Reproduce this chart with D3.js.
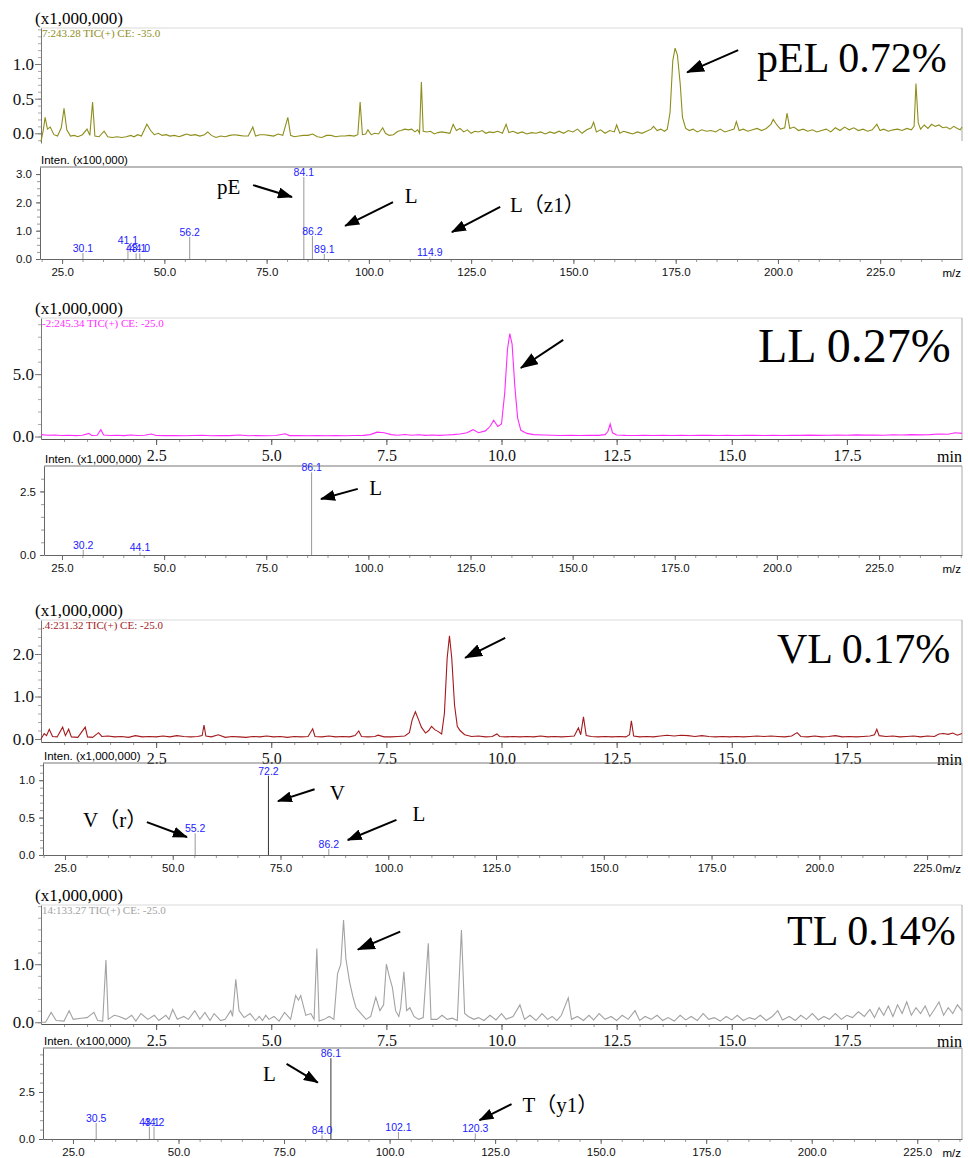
<!DOCTYPE html>
<html>
<head>
<meta charset="utf-8">
<script src="https://cdn.jsdelivr.net/npm/d3@7/dist/d3.min.js"></script>
<style>
  body { margin: 0; background: #fff; }
  svg { display: block; }
</style>
</head>
<body>
<div id="chart"></div>
<script>
// --------------------------------------
//  Data
// --------------------------------------

// retention time ticks (min) and m/z ticks
const timeTicks = [2.5, 5.0, 7.5, 10.0, 12.5, 15.0, 17.5];
const mzTicks = [25, 50, 75, 100, 125, 150, 175, 200, 225];

// chromatograms: [time (min), intensity (x1,000,000)]
const pelTrace = [[0.00,-0.12],[0.05,0.05],[0.09,0.23],[0.14,0.06],[0.20,0.09],[0.28,-0.02],[0.36,-0.04],[0.44,0.08],[0.50,0.36],[0.56,0.05],[0.64,-0.04],[0.72,-0.03],[0.80,-0.05],[0.90,-0.02],[1.00,0.06],[1.06,-0.03],[1.12,0.45],[1.17,-0.04],[1.26,-0.05],[1.37,0.03],[1.45,-0.05],[1.55,-0.06],[1.65,-0.05],[1.75,-0.06],[1.85,-0.05],[1.95,-0.03],[2.02,-0.05],[2.10,-0.02],[2.18,-0.04],[2.30,0.13],[2.38,0.04],[2.46,-0.02],[2.55,0.0],[2.63,-0.03],[2.72,-0.02],[2.80,-0.04],[2.90,-0.03],[3.00,-0.05],[3.08,-0.03],[3.16,-0.01],[3.25,-0.03],[3.35,-0.02],[3.45,-0.04],[3.55,-0.02],[3.62,0.02],[3.70,-0.03],[3.80,-0.06],[3.90,-0.04],[4.00,-0.05],[4.10,-0.03],[4.20,-0.02],[4.30,-0.03],[4.40,-0.04],[4.50,-0.04],[4.60,0.09],[4.66,-0.04],[4.75,-0.02],[4.85,-0.02],[4.95,-0.03],[5.05,-0.04],[5.15,-0.01],[5.25,-0.03],[5.36,0.23],[5.42,-0.03],[5.50,-0.05],[5.60,-0.04],[5.70,-0.03],[5.80,-0.03],[5.90,-0.01],[6.00,-0.05],[6.10,-0.06],[6.20,-0.03],[6.30,-0.03],[6.40,-0.05],[6.50,-0.04],[6.60,-0.04],[6.70,-0.03],[6.80,-0.04],[6.88,-0.02],[6.93,0.45],[6.98,-0.02],[7.05,-0.01],[7.10,0.05],[7.17,-0.02],[7.25,0.0],[7.33,-0.01],[7.42,0.08],[7.48,0.0],[7.56,-0.03],[7.65,-0.02],[7.75,0.03],[7.82,0.04],[7.90,0.06],[7.98,0.05],[8.05,0.06],[8.12,0.02],[8.18,0.05],[8.22,0.0],[8.26,0.74],[8.30,0.03],[8.38,0.02],[8.46,0.03],[8.54,-0.01],[8.62,0.01],[8.70,0.02],[8.80,0.01],[8.88,0.0],[8.95,0.13],[9.02,0.04],[9.10,0.07],[9.18,0.02],[9.26,0.05],[9.34,0.0],[9.42,0.03],[9.50,0.02],[9.58,0.04],[9.66,0.0],[9.74,0.02],[9.82,0.01],[9.92,0.03],[10.02,0.0],[10.10,0.13],[10.16,0.01],[10.25,0.03],[10.35,0.0],[10.45,0.02],[10.55,-0.01],[10.65,0.01],[10.75,0.0],[10.85,0.02],[10.95,-0.01],[11.05,0.02],[11.15,0.0],[11.25,0.03],[11.35,0.0],[11.45,0.04],[11.55,0.02],[11.65,0.06],[11.75,0.0],[11.85,0.05],[11.95,0.08],[12.00,0.16],[12.06,0.02],[12.15,0.05],[12.25,0.0],[12.35,0.04],[12.45,0.02],[12.50,0.12],[12.57,0.0],[12.65,0.03],[12.75,0.01],[12.85,-0.01],[12.95,0.02],[13.05,0.0],[13.15,0.03],[13.25,0.06],[13.30,0.10],[13.38,0.04],[13.46,0.06],[13.54,0.03],[13.60,0.06],[13.66,0.30],[13.72,1.05],[13.77,1.23],[13.82,1.13],[13.88,0.72],[13.93,0.23],[14.00,0.07],[14.08,0.04],[14.16,0.06],[14.25,0.02],[14.35,0.05],[14.45,0.03],[14.55,0.04],[14.65,0.02],[14.75,0.06],[14.85,0.02],[14.95,0.04],[15.05,0.06],[15.10,0.17],[15.16,0.04],[15.25,0.06],[15.35,0.03],[15.45,0.05],[15.55,0.07],[15.65,0.04],[15.75,0.07],[15.85,0.13],[15.90,0.20],[15.98,0.12],[16.06,0.06],[16.15,0.08],[16.20,0.29],[16.26,0.07],[16.35,0.09],[16.45,0.04],[16.55,0.06],[16.65,0.03],[16.75,0.05],[16.85,0.02],[16.95,0.04],[17.05,0.06],[17.15,0.02],[17.25,0.08],[17.35,0.04],[17.45,0.09],[17.55,0.05],[17.65,0.08],[17.75,0.04],[17.85,0.06],[17.95,0.03],[18.05,0.05],[18.15,0.13],[18.22,0.04],[18.30,0.06],[18.40,0.03],[18.50,0.05],[18.60,0.06],[18.70,0.04],[18.80,0.07],[18.90,0.05],[18.96,0.10],[19.00,0.72],[19.05,0.15],[19.10,0.06],[19.18,0.12],[19.26,0.07],[19.34,0.13],[19.42,0.10],[19.50,0.12],[19.58,0.08],[19.66,0.09],[19.74,0.06],[19.82,0.10],[19.90,0.07],[19.96,0.05],[20.00,0.09]];

const llTrace = [[0.0,0.15],[0.15,0.10],[0.3,0.12],[0.45,0.08],[0.6,0.10],[0.75,0.07],[0.9,0.10],[1.04,0.25],[1.1,0.08],[1.22,0.10],[1.3,0.55],[1.36,0.12],[1.5,0.08],[1.65,0.10],[1.8,0.07],[1.95,0.12],[2.1,0.08],[2.25,0.10],[2.4,0.20],[2.5,0.08],[2.7,0.07],[2.9,0.08],[3.1,0.06],[3.3,0.08],[3.5,0.10],[3.7,0.06],[3.9,0.08],[4.1,0.07],[4.3,0.12],[4.5,0.06],[4.7,0.08],[4.9,0.06],[5.1,0.08],[5.3,0.22],[5.4,0.07],[5.6,0.08],[5.8,0.06],[6.0,0.08],[6.2,0.06],[6.4,0.07],[6.6,0.06],[6.8,0.08],[7.0,0.09],[7.15,0.15],[7.3,0.35],[7.45,0.30],[7.6,0.15],[7.75,0.10],[7.9,0.16],[8.05,0.10],[8.2,0.14],[8.35,0.09],[8.5,0.12],[8.65,0.09],[8.8,0.12],[8.95,0.15],[9.1,0.20],[9.25,0.30],[9.38,0.55],[9.5,0.30],[9.65,0.45],[9.75,0.80],[9.83,1.30],[9.92,0.80],[10.0,1.00],[10.07,3.50],[10.13,7.00],[10.18,8.25],[10.23,7.40],[10.29,4.00],[10.35,1.50],[10.42,0.50],[10.55,0.25],[10.7,0.15],[10.9,0.12],[11.1,0.10],[11.3,0.08],[11.5,0.10],[11.7,0.08],[11.9,0.10],[12.1,0.09],[12.25,0.15],[12.31,0.40],[12.36,1.00],[12.41,0.30],[12.5,0.12],[12.7,0.09],[12.9,0.08],[13.1,0.10],[13.3,0.08],[13.5,0.09],[13.7,0.08],[13.9,0.10],[14.1,0.08],[14.3,0.09],[14.5,0.10],[14.7,0.08],[14.9,0.09],[15.1,0.08],[15.3,0.10],[15.5,0.09],[15.7,0.08],[15.9,0.10],[16.1,0.08],[16.3,0.10],[16.5,0.09],[16.7,0.11],[16.9,0.09],[17.1,0.10],[17.3,0.12],[17.5,0.10],[17.7,0.13],[17.9,0.11],[18.1,0.12],[18.3,0.10],[18.5,0.14],[18.7,0.12],[18.9,0.15],[19.1,0.13],[19.3,0.15],[19.5,0.20],[19.7,0.18],[19.85,0.30],[20.0,0.25]];

const vlTrace = [[0.00,0.0],[0.07,0.13],[0.12,0.08],[0.18,0.23],[0.25,0.06],[0.35,0.05],[0.47,0.28],[0.53,0.08],[0.60,0.23],[0.66,0.05],[0.80,0.04],[0.96,0.28],[1.01,0.05],[1.12,0.04],[1.25,0.15],[1.32,0.06],[1.45,0.07],[1.6,0.05],[1.75,0.06],[1.9,0.04],[2.05,0.08],[2.2,0.05],[2.35,0.06],[2.5,0.05],[2.65,0.07],[2.8,0.05],[2.95,0.08],[3.1,0.06],[3.25,0.05],[3.4,0.06],[3.5,0.08],[3.54,0.33],[3.58,0.07],[3.7,0.05],[3.85,0.10],[4.0,0.04],[4.15,0.06],[4.3,0.05],[4.45,0.04],[4.6,0.06],[4.75,0.05],[4.9,0.07],[5.05,0.05],[5.2,0.06],[5.35,0.04],[5.5,0.06],[5.65,0.05],[5.8,0.06],[5.9,0.24],[5.95,0.06],[6.1,0.05],[6.25,0.07],[6.4,0.05],[6.55,0.06],[6.7,0.05],[6.82,0.08],[6.9,0.19],[6.96,0.06],[7.1,0.05],[7.25,0.06],[7.32,0.09],[7.45,0.05],[7.6,0.05],[7.75,0.06],[7.9,0.07],[8.0,0.15],[8.06,0.45],[8.13,0.64],[8.2,0.45],[8.26,0.28],[8.35,0.14],[8.42,0.20],[8.48,0.30],[8.55,0.22],[8.62,0.18],[8.70,0.12],[8.76,0.60],[8.82,1.90],[8.87,2.43],[8.92,1.90],[8.98,0.80],[9.04,0.30],[9.1,0.20],[9.2,0.10],[9.35,0.06],[9.5,0.07],[9.65,0.05],[9.8,0.06],[9.9,0.12],[9.96,0.06],[10.1,0.05],[10.25,0.06],[10.4,0.05],[10.55,0.06],[10.7,0.05],[10.85,0.07],[11.0,0.05],[11.15,0.06],[11.3,0.05],[11.45,0.06],[11.58,0.07],[11.67,0.26],[11.72,0.10],[11.78,0.52],[11.84,0.08],[11.95,0.06],[12.1,0.05],[12.25,0.06],[12.4,0.05],[12.55,0.06],[12.7,0.05],[12.78,0.10],[12.82,0.43],[12.87,0.07],[13.0,0.05],[13.15,0.06],[13.3,0.05],[13.45,0.07],[13.6,0.09],[13.75,0.07],[13.9,0.09],[14.05,0.08],[14.2,0.06],[14.35,0.08],[14.5,0.06],[14.65,0.05],[14.8,0.06],[14.95,0.05],[15.1,0.06],[15.25,0.05],[15.4,0.06],[15.55,0.07],[15.7,0.06],[15.85,0.07],[16.0,0.06],[16.15,0.05],[16.3,0.07],[16.42,0.15],[16.5,0.06],[16.65,0.05],[16.8,0.07],[16.95,0.05],[17.1,0.06],[17.25,0.08],[17.4,0.05],[17.55,0.06],[17.7,0.05],[17.85,0.06],[18.0,0.07],[18.1,0.10],[18.15,0.23],[18.2,0.08],[18.35,0.06],[18.5,0.07],[18.65,0.05],[18.8,0.06],[18.95,0.07],[19.1,0.05],[19.25,0.07],[19.4,0.06],[19.5,0.12],[19.6,0.13],[19.7,0.11],[19.8,0.14],[19.9,0.09],[20.0,0.13]];

const tlTrace = [[0.00,0.0],[0.10,0.0],[0.22,0.17],[0.33,0.03],[0.50,0.02],[0.61,0.20],[0.70,0.05],[0.87,0.07],[1.00,0.08],[1.15,0.17],[1.23,0.03],[1.34,0.02],[1.41,1.07],[1.46,0.05],[1.59,0.12],[1.70,0.10],[1.84,0.05],[1.97,0.12],[2.06,0.02],[2.17,0.15],[2.32,0.05],[2.46,0.12],[2.56,0.03],[2.71,0.12],[2.78,0.05],[2.86,0.22],[2.96,0.05],[3.10,0.10],[3.20,0.05],[3.34,0.20],[3.45,0.05],[3.56,0.17],[3.67,0.03],[3.76,0.15],[3.90,0.03],[4.00,0.05],[4.12,0.20],[4.16,0.10],[4.23,0.74],[4.30,0.20],[4.41,0.08],[4.54,0.15],[4.66,0.03],[4.74,0.10],[4.81,0.03],[4.88,0.12],[4.95,0.05],[5.06,0.10],[5.17,0.02],[5.29,0.17],[5.42,0.05],[5.53,0.46],[5.59,0.38],[5.64,0.46],[5.75,0.12],[5.86,0.15],[5.93,0.05],[5.99,1.27],[6.04,0.02],[6.15,0.05],[6.26,0.10],[6.36,0.05],[6.44,0.84],[6.51,1.00],[6.57,1.76],[6.62,1.10],[6.70,0.70],[6.77,0.45],[6.84,0.25],[6.95,0.15],[7.06,0.05],[7.16,0.10],[7.27,0.43],[7.36,0.20],[7.44,0.30],[7.50,1.00],[7.56,0.80],[7.63,0.60],[7.70,0.20],[7.77,0.10],[7.81,0.25],[7.88,0.87],[7.94,0.20],[8.01,0.25],[8.10,0.10],[8.20,0.05],[8.30,0.08],[8.41,1.36],[8.47,0.05],[8.60,0.05],[8.71,0.12],[8.82,0.05],[8.93,0.07],[9.04,0.03],[9.13,1.59],[9.20,0.15],[9.28,0.10],[9.40,0.05],[9.50,0.08],[9.62,0.03],[9.75,0.12],[9.88,0.04],[10.0,0.15],[10.1,0.05],[10.25,0.10],[10.4,0.30],[10.5,0.05],[10.62,0.12],[10.75,0.03],[10.88,0.15],[11.0,0.05],[11.1,0.10],[11.2,0.03],[11.3,0.12],[11.45,0.42],[11.52,0.05],[11.65,0.10],[11.78,0.03],[11.9,0.12],[12.0,0.04],[12.12,0.15],[12.25,0.05],[12.38,0.10],[12.5,0.03],[12.62,0.12],[12.75,0.05],[12.9,0.20],[13.0,0.03],[13.12,0.10],[13.25,0.05],[13.38,0.12],[13.5,0.03],[13.62,0.08],[13.75,0.02],[13.88,0.12],[14.0,0.04],[14.12,0.10],[14.25,0.03],[14.38,0.15],[14.5,0.05],[14.62,0.08],[14.75,0.02],[14.88,0.10],[15.0,0.04],[15.12,0.12],[15.25,0.03],[15.38,0.08],[15.5,0.05],[15.62,0.12],[15.75,0.03],[15.88,0.10],[16.0,0.20],[16.1,0.04],[16.25,0.10],[16.38,0.03],[16.5,0.12],[16.62,0.05],[16.75,0.15],[16.88,0.04],[17.0,0.10],[17.12,0.05],[17.25,0.15],[17.38,0.05],[17.5,0.12],[17.62,0.08],[17.75,0.18],[17.88,0.10],[18.0,0.22],[18.1,0.08],[18.2,0.25],[18.3,0.12],[18.4,0.28],[18.5,0.10],[18.6,0.30],[18.7,0.15],[18.8,0.35],[18.9,0.12],[19.0,0.25],[19.1,0.15],[19.2,0.28],[19.3,0.10],[19.4,0.22],[19.5,0.35],[19.6,0.12],[19.7,0.25],[19.8,0.15],[19.9,0.30],[20.0,0.20]];

// product ion spectra: m/z and intensity
const pelMz  = [30.1, 41.1, 43.1, 44.0, 56.2, 84.1, 86.2, 89.1, 114.9];
const pelInt = [0.21, 0.48, 0.20, 0.20, 0.78, 2.90, 0.81, 0.18, 0.06];
const llMz   = [30.2, 44.1, 86.1];
const llInt  = [0.20, 0.10, 3.25];
const vlMz   = [55.2, 72.2, 86.2];
const vlInt  = [0.29, 1.06, 0.08];
const tlMz   = [30.5, 43.1, 44.2, 84.0, 86.1, 102.1, 120.3];
const tlInt  = [0.85, 0.65, 0.65, 0.20, 4.30, 0.37, 0.30];

// --------------------------------------
//  Canvas
// --------------------------------------

const width = 968, height = 1158;
const SERIF = "'Liberation Serif','Times New Roman',serif";
const SANS = "'Liberation Sans',Arial,sans-serif";
const NARROW = "'Liberation Sans Narrow','Arial Narrow','Liberation Sans',Arial,sans-serif";
const left = 41, right = 962;

const svg = d3.select("#chart")
  .append("svg")
    .attr("width", width)
    .attr("height", height)
    .attr("viewBox", `0 0 ${width} ${height}`);

const defs = svg.append("defs");
[["headBig", 18, 13], ["headSmall", 15, 11]].forEach(([id, w, h]) => {
  defs.append("marker")
      .attr("id", id)
      .attr("viewBox", `0 0 ${w} ${h}`)
      .attr("refX", w - 1)
      .attr("refY", h / 2)
      .attr("markerWidth", w)
      .attr("markerHeight", h)
      .attr("markerUnits", "userSpaceOnUse")
      .attr("orient", "auto")
    .append("path")
      .attr("d", `M0,0L${w},${h / 2}L0,${h}Z`)
      .attr("fill", "#000");
});

// --------------------------------------
//  Panel layout
// --------------------------------------

const chromPanels = [
  {data: pelTrace, color: "#8e8e1c", header: "7:243.28 TIC(+) CE: -35.0", title: "pEL 0.72%", titleSize: 42,
   titleAt: [15.55, 0.89], arrow: [[15.14, 1.20], [14.03, 0.88]],
   top: 28, bottom: 143, yDomain: [-0.14, 1.52], yTicks: [0, 0.5, 1.0], minor: 0.1, xAxis: false},
  {data: llTrace, color: "#ff2bff", header: "-2:245.34 TIC(+) CE: -25.0", title: "LL 0.27%", titleSize: 48,
   titleAt: [15.57, 5.97], arrow: [[11.34, 7.74], [10.42, 5.49]],
   top: 318, bottom: 439, yDomain: [-0.2, 9.5], yTicks: [0, 5], minor: 1, xAxis: true},
  {data: vlTrace, color: "#a3191c", header: ".4:231.32 TIC(+) CE: -25.0", title: "VL 0.17%", titleSize: 42,
   titleAt: [15.98, 1.79], arrow: [[10.08, 2.38], [9.21, 1.91]],
   top: 620, bottom: 742, yDomain: [-0.07, 2.8], yTicks: [0, 1, 2], minor: 0.2, xAxis: true},
  {data: tlTrace, color: "#a2a2a2", header: "14:133.27 TIC(+) CE: -25.0", title: "TL 0.14%", titleSize: 42,
   titleAt: [16.2, 1.33], arrow: [[7.80, 1.56], [6.88, 1.25]],
   top: 905, bottom: 1024, yDomain: [-0.03, 2.02], yTicks: [0, 1], minor: 0.2, xAxis: true}
];

const msPanels = [
  {mz: pelMz, inten: pelInt, unit: "Inten. (x100,000)", left: 40, top: 167, zero: 259,
   yDomain: [0, 3.25], yTicks: [0, 1, 2, 3], minor: 0.25, mzDomain: [19.6, 245], dark: [],
   notes: [{text: "pE", at: [62.9, 2.30], from: [71.7, 2.61], to: [81.2, 2.19]},
           {text: "L", at: [108.8, 1.98], from: [105.9, 2.01], to: [94.2, 1.17]},
           {text: "L（z1）", at: [134.5, 1.66], from: [132.1, 1.84], to: [120.3, 0.95]}]},
  {mz: llMz, inten: llInt, unit: "Inten. (x1,000,000)", left: 44, top: 466, zero: 555,
   yDomain: [0, 3.5], yTicks: [0, 2.5], minor: 0.5, mzDomain: [20.6, 245.3], dark: [],
   notes: [{text: "L", at: [100.2, 2.36], from: [97.4, 2.60], to: [88.4, 2.20]}]},
  {mz: vlMz, inten: vlInt, unit: "Inten. (x1,000,000)", left: 43, top: 763, zero: 855,
   yDomain: [0, 1.23], yTicks: [0, 0.5, 1.0], minor: 0.1, mzDomain: [19.9, 233.1], dark: [72.2],
   notes: [{text: "V", at: [86.4, 0.73], from: [82.9, 0.88], to: [74.4, 0.72]},
           {text: "V（r）", at: [29.2, 0.37], from: [44.0, 0.44], to: [53.3, 0.24]},
           {text: "L", at: [105.6, 0.45], from: [101.9, 0.47], to: [90.6, 0.20]}]},
  {mz: tlMz, inten: tlInt, unit: "Inten. (x100,000)", left: 43, top: 1048, zero: 1139,
   yDomain: [0, 4.84], yTicks: [0, 2.5], minor: 0.5, mzDomain: [17.9, 235.6], dark: [86.1],
   notes: [{text: "L", at: [70.0, 3.10], from: [75.6, 4.0], to: [83.0, 3.0]},
           {text: "T（y1）", at: [131.5, 1.44], from: [128.9, 1.86], to: [121.3, 1.0]}]}
];

// --------------------------------------
//  Chromatograms
// --------------------------------------

function styleAxis(sel, color, font, size) {
  sel.select(".domain").attr("stroke", color);
  sel.selectAll(".tick line").attr("stroke", color);
  sel.selectAll(".tick text")
    .attr("fill", "#111")
    .style("font-family", font)
    .style("font-size", size + "px");
}

chromPanels.forEach(p => {

  const x = d3.scaleLinear().domain([0, 20]).range([left, right]);
  const y = d3.scaleLinear().domain(p.yDomain).range([p.bottom, p.top]);
  const g = svg.append("g");

  // frame
  g.append("line")
      .attr("x1", left).attr("x2", right)
      .attr("y1", p.top).attr("y2", p.top)
      .attr("stroke", "#d9d9d9");
  g.append("line")
      .attr("x1", right).attr("x2", right)
      .attr("y1", p.top).attr("y2", p.bottom + (p.xAxis ? 0 : -2))
      .attr("stroke", "#a8a8a8");

  // y axis
  const minorY = d3.range(Math.ceil(p.yDomain[0] / p.minor) * p.minor, p.yDomain[1], p.minor);
  g.append("g")
      .attr("transform", `translate(${left},0)`)
      .call(d3.axisLeft(y).tickValues(minorY).tickSize(3).tickFormat(""))
      .call(a => a.select(".domain").remove())
      .selectAll("line").attr("stroke", "#aaa");
  g.append("g")
      .attr("transform", `translate(${left},0)`)
      .call(d3.axisLeft(y).tickValues(p.yTicks).tickSize(6).tickSizeOuter(0).tickPadding(1).tickFormat(d3.format(".1f")))
      .call(a => styleAxis(a, "#777", SERIF, 17));

  // x axis
  if (p.xAxis) {
    g.append("g")
        .attr("transform", `translate(0,${p.bottom})`)
        .call(d3.axisBottom(x).tickValues(d3.range(0.5, 20, 0.5)).tickSize(3).tickFormat(""))
        .call(a => a.select(".domain").remove())
        .selectAll("line").attr("stroke", "#999");
    g.append("g")
        .attr("transform", `translate(0,${p.bottom})`)
        .call(d3.axisBottom(x).tickValues(timeTicks).tickSize(6).tickSizeOuter(0).tickPadding(5).tickFormat(d3.format(".1f")))
        .call(a => styleAxis(a, "#555", SERIF, 16));
    g.append("text")
        .attr("x", right)
        .attr("y", p.bottom + 23)
        .attr("text-anchor", "end")
        .style("font-family", SERIF)
        .style("font-size", "16px")
        .text("min");
  }

  // trace
  g.append("path")
      .datum(p.data)
      .attr("d", d3.line().x(d => x(d[0])).y(d => y(d[1])))
      .attr("fill", "none")
      .attr("stroke", p.color)
      .attr("stroke-width", 1.1);

  // texts
  g.append("text")
      .attr("x", left - 6)
      .attr("y", p.top - 4)
      .style("font-family", SERIF)
      .style("font-size", "17px")
      .text("(x1,000,000)");
  g.append("text")
      .attr("x", left + 1)
      .attr("y", p.top + 9)
      .attr("fill", p.color)
      .style("font-family", SERIF)
      .style("font-size", "11px")
      .text(p.header);
  g.append("text")
      .attr("x", x(p.titleAt[0]))
      .attr("y", y(p.titleAt[1]))
      .style("font-family", SERIF)
      .style("font-size", p.titleSize + "px")
      .text(p.title);

  g.append("line")
      .attr("x1", x(p.arrow[0][0])).attr("y1", y(p.arrow[0][1]))
      .attr("x2", x(p.arrow[1][0])).attr("y2", y(p.arrow[1][1]))
      .attr("stroke", "#000")
      .attr("stroke-width", 2)
      .attr("marker-end", "url(#headBig)");
});

// --------------------------------------
//  Product ion spectra
// --------------------------------------

msPanels.forEach(p => {

  const x = d3.scaleLinear().domain(p.mzDomain).range([p.left, right]);
  const y = d3.scaleLinear().domain(p.yDomain).range([p.zero, p.top]);
  const g = svg.append("g");

  g.append("line")
      .attr("x1", p.left).attr("x2", right)
      .attr("y1", p.top).attr("y2", p.top)
      .attr("stroke", "#777");
  g.append("line")
      .attr("x1", right).attr("x2", right)
      .attr("y1", p.top).attr("y2", p.zero)
      .attr("stroke", "#aaa");

  // y axis
  const minorY = d3.range(0, p.yDomain[1], p.minor);
  g.append("g")
      .attr("transform", `translate(${p.left},0)`)
      .call(d3.axisLeft(y).tickValues(minorY).tickSize(3).tickFormat(""))
      .call(a => a.select(".domain").remove())
      .selectAll("line").attr("stroke", "#999");
  g.append("g")
      .attr("transform", `translate(${p.left},0)`)
      .call(d3.axisLeft(y).tickValues(p.yTicks).tickSize(4).tickSizeOuter(0).tickPadding(4).tickFormat(d3.format(".1f")))
      .call(a => styleAxis(a, "#666", SANS, 11.5));

  // x axis
  const minorX = d3.range(Math.ceil(p.mzDomain[0] / 5) * 5, p.mzDomain[1], 5);
  g.append("g")
      .attr("transform", `translate(0,${p.zero})`)
      .call(d3.axisBottom(x).tickValues(minorX).tickSize(3).tickFormat(""))
      .call(a => a.select(".domain").remove())
      .selectAll("line").attr("stroke", "#999");
  g.append("g")
      .attr("transform", `translate(0,${p.zero})`)
      .call(d3.axisBottom(x).tickValues(mzTicks).tickSize(5).tickSizeOuter(0).tickPadding(4).tickFormat(d3.format(".1f")))
      .call(a => styleAxis(a, "#666", NARROW, 11.5));
  g.append("text")
      .attr("x", right - 1)
      .attr("y", p.zero + 18)
      .attr("text-anchor", "end")
      .style("font-family", NARROW)
      .style("font-size", "11.5px")
      .text("m/z");

  g.append("text")
      .attr("x", p.left + 1)
      .attr("y", p.top - 3)
      .style("font-family", NARROW)
      .style("font-size", "11.5px")
      .text(p.unit);

  // sticks and labels
  const peaks = p.mz.map((m, i) => ({mz: m, v: p.inten[i]}));
  g.selectAll(".stick")
    .data(peaks)
    .join("line")
      .attr("x1", d => x(d.mz)).attr("x2", d => x(d.mz))
      .attr("y1", y(0)).attr("y2", d => y(d.v))
      .attr("stroke", d => p.dark.includes(d.mz) ? "#333" : "#999")
      .attr("stroke-width", 1);
  g.selectAll(".lbl")
    .data(peaks)
    .join("text")
      .attr("x", d => x(d.mz))
      .attr("y", d => y(d.v) - 1)
      .attr("text-anchor", "middle")
      .attr("fill", "#1c1cff")
      .style("font-family", SANS)
      .style("font-size", "10.5px")
      .text(d => d.mz.toFixed(1));

  // annotations
  p.notes.forEach(n => {
    g.append("text")
        .attr("x", x(n.at[0]))
        .attr("y", y(n.at[1]))
        .style("font-family", SERIF + ",'Noto Sans CJK SC'")
        .style("font-size", "21px")
        .text(n.text);
    g.append("line")
        .attr("x1", x(n.from[0])).attr("y1", y(n.from[1]))
        .attr("x2", x(n.to[0])).attr("y2", y(n.to[1]))
        .attr("stroke", "#000")
        .attr("stroke-width", 2)
        .attr("marker-end", "url(#headSmall)");
  });
});
</script>
</body>
</html>
